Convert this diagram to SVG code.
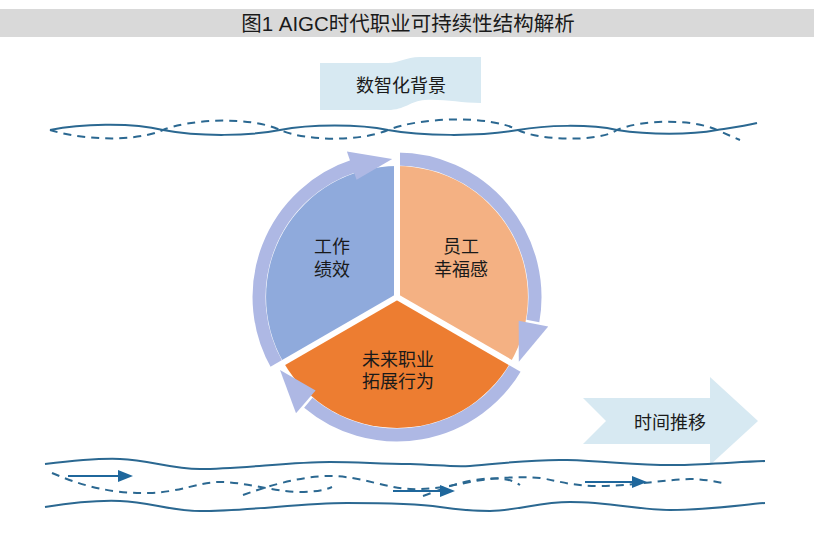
<svg xmlns="http://www.w3.org/2000/svg" width="814" height="546" viewBox="0 0 814 546">
<defs>
<style>
.t{font-family:"Liberation Sans","Noto Sans CJK SC",sans-serif;fill:#1a1a1a;text-anchor:middle;}
.lbl{font-size:18px;}
.wave{fill:none;stroke:#2b6891;stroke-width:2;}
.dash{fill:none;stroke:#2b6891;stroke-width:2;stroke-dasharray:8 6;}
.ring{fill:none;stroke:#aeb8e4;stroke-width:13;}
.head{fill:#aeb8e4;}
.gap{stroke:#ffffff;stroke-width:6;}
.arr{stroke:#1f679c;stroke-width:2;fill:none;}
.arrh{fill:#1f679c;}
.bg{fill:#d7e9f2;}
</style>
</defs>
<rect x="0" y="0" width="814" height="546" fill="#ffffff"/>
<g id="title">
<rect x="0" y="9" width="814" height="28" fill="#d9d9d9"/>
<text class="t" x="408" y="31" font-size="20.5">图1 AIGC时代职业可持续性结构解析</text>
</g>
<g id="background-banner">
<path class="bg" d="M320,63 L388,63 C400,63 405,57 420,57 L481,57 L481,103 C460,103 445,99 425,100 C410,101 405,110 388,110 L320,110 Z"/>
<text class="t lbl" x="401" y="92">数智化背景</text>
</g>
<g id="time-arrow">
<path class="bg" d="M583,398 L710,398 L710,377 L758,421 L710,465 L710,444 L583,444 L606,421 Z"/>
<text class="t lbl" x="670" y="429">时间推移</text>
</g>
<g id="connectors">
<path class="wave" d="M50,130 C80,124 130,122 163,130 C200,137 250,136 280,130 C310,124 360,124 388,130 C420,136 480,137 518,130 C545,125 590,124 617,130 C650,135 690,135 717,130 C730,128 745,126 757,123"/>
<path class="dash" d="M50,130 C75,138 130,144 163,130 C190,119 250,116 280,130 C305,141 360,142 388,130 C420,117 490,115 518,130 C540,141 600,142 617,130 C640,120 690,118 717,130 C726,134 733,137 740,140"/>
<path class="wave" d="M45,464 C70,461 95,458 120,459 C150,460 170,469 200,469 C240,469 290,462 330,462 C360,462 380,464 410,464 C440,465 450,467 470,466 C500,464 530,459 567,460 C610,461 640,466 680,465 C710,464 740,462 765,461"/>
<path class="wave" d="M45,507 C70,503 95,500 120,501 C150,502 170,511 200,511 C250,511 300,503 347,503 C380,503 420,504 440,507 C460,510 470,511 490,511 C520,510 540,502 570,502 C610,502 640,510 670,510 C710,510 740,505 765,503"/>
<path class="dash" d="M52,473 C80,485 110,494 150,493 C180,492 200,482 220,482 C245,482 270,491 300,492 C315,492 325,490 332,487"/>
<path class="dash" d="M243,495 C265,487 300,476 330,476 C360,476 385,488 410,489 C430,490 450,486 470,482 C490,478 520,476 540,478 C560,481 570,486 600,486 C630,486 660,480 690,479 C705,479 718,482 727,484"/>
<path class="dash" d="M423,496 C440,490 455,483 475,480 C495,477 510,478 520,485"/>
<line class="arr" x1="68" y1="476" x2="120" y2="476"/>
<polygon class="arrh" points="118,470 133,476 118,482"/>
<line class="arr" x1="393" y1="491" x2="442" y2="491"/>
<polygon class="arrh" points="440,485 455,491 440,497"/>
<line class="arr" x1="585" y1="482" x2="634" y2="482"/>
<polygon class="arrh" points="632,476 647,482 632,488"/>
</g>
<g id="cycle-ring">
<path class="ring" d="M277.5,366 A138,138 0 0,1 354.4,165.8"/>
<path class="ring" d="M397,159 A138,138 0 0,1 532.9,321"/>
<path class="ring" d="M516.5,366 A138,138 0 0,1 308.3,402.7"/>
</g>
<g id="node-performance">
<path fill="#8faadc" d="M397,297 L283.6,362.5 A131,131 0 0,1 397,166 Z"/>
<text class="t lbl"><tspan x="332" y="253">工作</tspan><tspan x="332" y="275.5">绩效</tspan></text>
</g>
<g id="node-wellbeing">
<path fill="#f4b183" d="M397,297 L397,166 A131,131 0 0,1 510.4,362.5 Z"/>
<text class="t lbl"><tspan x="461" y="253">员工</tspan><tspan x="461" y="275.5">幸福感</tspan></text>
</g>
<g id="node-career">
<path fill="#ed7d31" d="M397,297 L510.4,362.5 A131,131 0 0,1 283.6,362.5 Z"/>
<text class="t lbl"><tspan x="398" y="365.5">未来职业</tspan><tspan x="398" y="388">拓展行为</tspan></text>
</g>
<g id="cycle-heads">
<polygon class="head" points="356.6,179.8 346.9,151.4 392.2,159.1"/>
<polygon class="head" points="518.7,320.7 548.2,326.4 518.8,361.8"/>
<polygon class="head" points="315.6,390.6 296,413.2 280,370.1"/>
</g>
<g id="gaps">
<line class="gap" x1="397" y1="297" x2="397" y2="140"/>
<line class="gap" x1="397" y1="297" x2="545" y2="382.5"/>
<line class="gap" x1="397" y1="297" x2="249" y2="382.5"/>
</g>
</svg>
